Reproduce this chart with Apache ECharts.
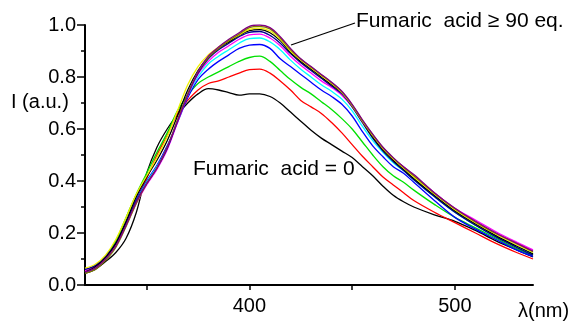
<!DOCTYPE html>
<html>
<head>
<meta charset="utf-8">
<script src="https://cdn.jsdelivr.net/npm/echarts@6/dist/echarts.min.js"></script>
<style>
html,body{margin:0;padding:0;background:#fff;}
#chart{width:576px;height:321px;}
</style>
</head>
<body>
<div id="chart"></div>
<script>
// Wavelengths (nm)
const wavelengths = [320,325,330,335,340,345,350,355,360,365,370,375,380,385,390,395,400,405,410,415,420,425,430,435,440,445,450,455,460,465,470,475,480,490,500,510,520,530,538];

// Intensity curves, from Fumaric acid = 0 up to >= 90 eq.
const eq0 = [.045,.06,.09,.125,.18,.28,.43,.53,.60,.655,.70,.735,.755,.75,.74,.73,.735,.735,.725,.70,.665,.63,.595,.565,.54,.515,.49,.455,.42,.38,.345,.32,.30,.27,.245,.21,.17,.135,.108];
const eqA = [.05,.07,.105,.16,.24,.33,.41,.50,.575,.66,.71,.75,.775,.785,.80,.815,.828,.83,.815,.785,.75,.71,.685,.66,.625,.585,.54,.495,.455,.415,.385,.355,.325,.28,.24,.20,.16,.125,.10];
const eqB = [.05,.075,.11,.17,.26,.35,.43,.51,.585,.67,.73,.775,.80,.82,.84,.86,.875,.88,.86,.825,.79,.76,.735,.705,.675,.64,.60,.55,.50,.455,.42,.395,.365,.31,.26,.22,.18,.14,.115];
const eqC = [.06,.075,.11,.16,.24,.33,.40,.46,.535,.625,.72,.79,.83,.86,.885,.91,.923,.925,.91,.87,.84,.81,.78,.75,.725,.695,.65,.59,.535,.493,.455,.43,.395,.325,.26,.215,.175,.135,.11];
const eqD = [.05,.065,.10,.155,.235,.325,.395,.455,.53,.63,.73,.80,.85,.88,.905,.93,.948,.95,.935,.905,.865,.83,.80,.77,.745,.715,.67,.61,.555,.51,.47,.44,.405,.34,.28,.23,.185,.15,.12];
const eqE = [.055,.07,.105,.155,.23,.315,.385,.445,.52,.625,.73,.81,.86,.895,.92,.945,.962,.965,.95,.92,.88,.845,.815,.785,.76,.73,.685,.625,.57,.525,.485,.455,.42,.355,.295,.25,.205,.165,.135];
const eqF = [.06,.075,.11,.16,.24,.325,.39,.45,.525,.63,.735,.815,.87,.905,.93,.955,.972,.975,.96,.93,.89,.855,.825,.795,.765,.735,.685,.625,.565,.515,.475,.44,.405,.34,.28,.23,.185,.145,.115];
const eqG = [.05,.07,.105,.16,.245,.34,.415,.48,.555,.65,.75,.825,.875,.91,.935,.96,.978,.982,.97,.94,.895,.86,.83,.80,.77,.74,.69,.63,.57,.52,.48,.445,.41,.345,.285,.235,.19,.15,.12];
const eqH = [.065,.08,.115,.175,.26,.35,.42,.49,.57,.67,.77,.84,.885,.915,.94,.962,.983,.988,.977,.945,.90,.865,.835,.805,.775,.74,.69,.63,.575,.525,.485,.45,.415,.35,.29,.24,.195,.155,.125];
const eqI = [.045,.06,.095,.145,.225,.315,.39,.45,.53,.635,.735,.82,.875,.91,.94,.965,.99,.995,.985,.95,.905,.868,.838,.808,.778,.743,.693,.633,.578,.528,.488,.453,.42,.353,.293,.243,.198,.16,.128];
const eqJ = [.05,.065,.10,.15,.23,.32,.39,.45,.53,.63,.73,.82,.88,.915,.945,.97,.995,1.0,.99,.955,.91,.87,.84,.81,.78,.745,.695,.635,.58,.53,.49,.455,.425,.355,.295,.245,.20,.16,.13];

const curves = [eq0,eqA,eqB,eqC,eqD,eqE,eqF,eqG,eqH,eqI,eqJ];
const curveColors = ['#000000','#ff0000','#00e000','#0000ff','#00ffff','#ff00ff','#000090','#000000','#f0f000','#808000','#800080'];

const yTicks = [0,0.2,0.4,0.6,0.8,1.0];
const xTickValues = [350,400,450,500];
const xLabelValues = [400,500];

const chart = echarts.init(document.getElementById('chart'), null, {renderer:'canvas'});
const font = '"Liberation Sans", Arial, sans-serif';

const series = curves.map((c, k) => ({
  type: 'line',
  data: wavelengths.map((w, i) => [w, c[i]]),
  smooth: 0.35,
  showSymbol: false,
  symbol: 'none',
  lineStyle: {color: curveColors[k], width: 1.3},
  itemStyle: {color: curveColors[k]},
  z: 2 + k
}));

chart.setOption({
  animation: false,
  backgroundColor: '#fff',
  grid: {left: 85, right: 43, top: 25, bottom: 36, containLabel: false},
  xAxis: {
    type: 'value', min: 320, max: 538,
    axisLine: {show: true, onZero: false, lineStyle: {color: '#000', width: 2}},
    axisTick: {show: true, length: 5, lineStyle: {color: '#000', width: 1.5}, customValues: xTickValues},
    axisLabel: {show: true, margin: 11, color: '#000', fontSize: 20, fontFamily: font, customValues: xLabelValues},
    splitLine: {show: false}
  },
  yAxis: {
    type: 'value', min: 0, max: 1.0, interval: 0.2,
    axisLine: {show: true, lineStyle: {color: '#000', width: 2}},
    axisTick: {show: true, length: 8, lineStyle: {color: '#000', width: 1.5}},
    minorTick: {show: true, splitNumber: 2, length: 4, lineStyle: {color: '#000', width: 1.5}},
    axisLabel: {margin: 9, color: '#000', fontSize: 20, fontFamily: font, formatter: v => v.toFixed(1)},
    splitLine: {show: false},
    minorSplitLine: {show: false}
  },
  series: series,
  graphic: [
    {type: 'text', left: 11, top: 92, style: {text: 'I (a.u.)', font: '20px ' + font, fill: '#000'}},
    {type: 'text', left: 518, top: 301, style: {text: 'λ(nm)', font: '20px ' + font, fill: '#000'}},
    {type: 'text', left: 356, top: 11, style: {text: 'Fumaric  acid ≥ 90 eq.', font: '21px ' + font, fill: '#000'}},
    {type: 'text', left: 193, top: 159, style: {text: 'Fumaric  acid = 0', font: '21px ' + font, fill: '#000'}},
    {type: 'line', shape: {x1: 291, y1: 45, x2: 355, y2: 23}, style: {stroke: '#000', lineWidth: 1.3}, z: 100}
  ]
});
</script>
</body>
</html>
